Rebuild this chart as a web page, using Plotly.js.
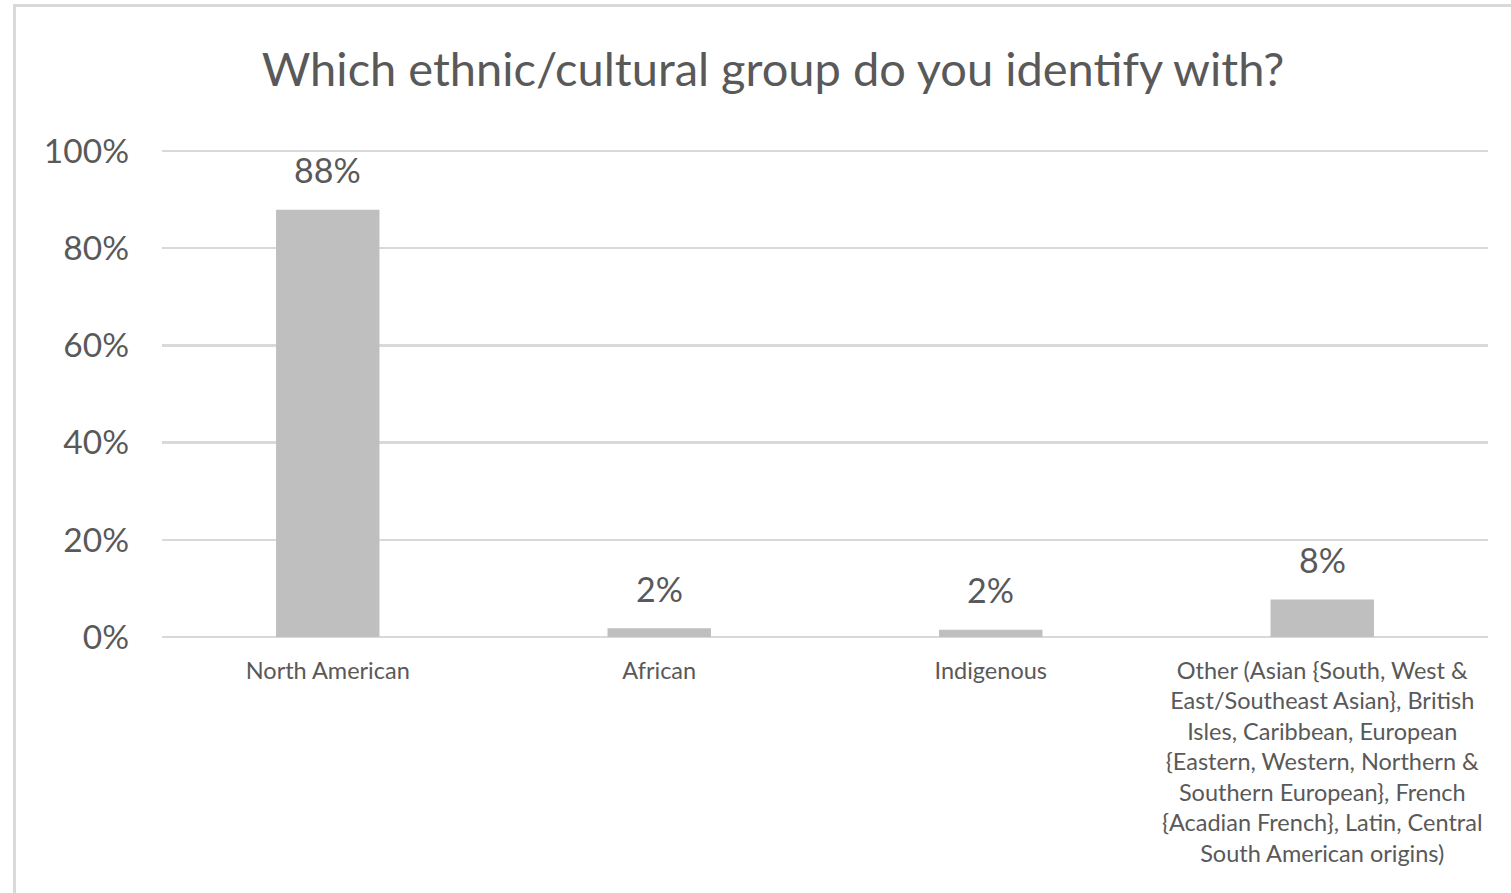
<!DOCTYPE html>
<html>
<head>
<meta charset="utf-8">
<script src="https://cdn.plot.ly/plotly-3.0.1.min.js"></script>
<style>
  html, body { margin: 0; padding: 0; background: #ffffff; overflow: hidden; }
  #chart { width: 1511px; height: 893px; }
  #frame { position: absolute; left: 13px; top: 4px; width: 1600px; height: 1000px;
           border: 3px solid #d9d9d9; pointer-events: none; box-sizing: border-box; }
</style>
</head>
<body>
<div id="chart"></div>
<div id="frame"></div>
<script>
const titleText = "Which ethnic/cultural group do you identify with?";
const categories = [
  "North American",
  "African",
  "Indigenous",
  "Other (Asian {South, West &<br>East/Southeast Asian}, British<br>Isles, Caribbean, European<br>{Eastern, Western, Northern &<br>Southern European}, French<br>{Acadian French}, Latin, Central<br>South American origins)"
];
const shares = [0.879, 0.018, 0.015, 0.077];
const yTickVals = [0, 0.2, 0.4, 0.6, 0.8, 1.0];
const yTickText = ["0%", "20%", "40%", "60%", "80%", "100%"];

const FONT = "Lato, 'Open Sans', 'DejaVu Sans', sans-serif";
const GREY = "#595959";

const trace = {
  type: "bar",
  x: categories,
  y: shares,
  marker: { color: "#bfbfbf" },
  hoverinfo: "skip"
};

const annotations = categories.map((c, i) => ({
  x: c,
  y: shares[i],
  xref: "x",
  yref: "y",
  text: Math.round(shares[i] * 100) + "%",
  showarrow: false,
  yanchor: "middle",
  yshift: 40,
  font: { family: FONT, size: 34, color: GREY }
}));

const layout = {
  width: 1511,
  height: 893,
  paper_bgcolor: "#ffffff",
  plot_bgcolor: "#ffffff",
  margin: { l: 162, r: 23, t: 146, b: 256 },
  showlegend: false,
  bargap: 0.688,
  title: {
    text: titleText,
    font: { family: FONT, size: 47, color: GREY },
    xref: "container",
    yref: "container",
    x: 773 / 1511,
    xanchor: "center",
    y: 1 - 70 / 893,
    yanchor: "middle"
  },
  xaxis: {
    type: "category",
    showgrid: false,
    showline: false,
    zeroline: false,
    ticks: "",
    tickfont: { family: FONT, size: 23.5, color: GREY },
    ticklabelstandoff: 17,
    fixedrange: true
  },
  yaxis: {
    range: [0, 1.01],
    tickvals: yTickVals,
    ticktext: yTickText,
    tickfont: { family: FONT, size: 33.5, color: GREY },
    showgrid: true,
    gridcolor: "#d9d9d9",
    gridwidth: 2.5,
    zeroline: true,
    zerolinecolor: "#d9d9d9",
    zerolinewidth: 2.5,
    showline: false,
    ticks: "",
    ticklabelstandoff: 32,
    fixedrange: true
  },
  annotations: annotations
};

Plotly.newPlot("chart", [trace], layout, { displayModeBar: false, staticPlot: true });
</script>
</body>
</html>
